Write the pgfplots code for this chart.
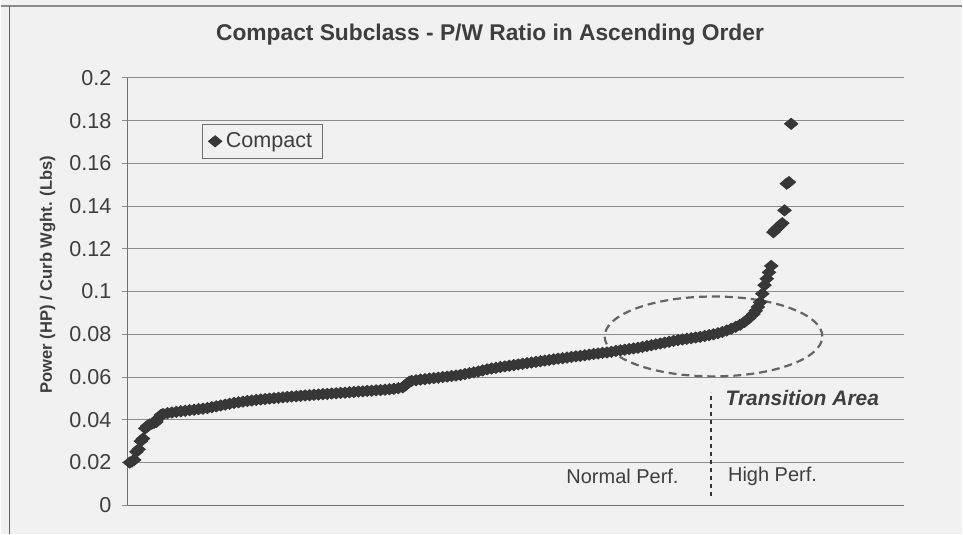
\documentclass[border=0pt]{standalone}
\usepackage{pgfplots}
\pgfplotsset{compat=1.18}
\usepackage{fontspec}
\setmainfont{Liberation Sans}
\definecolor{bg}{RGB}{241,241,241}
\definecolor{txt}{RGB}{62,62,62}
\definecolor{gridc}{RGB}{140,140,140}
\definecolor{mk}{RGB}{55,55,55}
\definecolor{dashc}{RGB}{100,100,100}

\pgfplotstableread{
x y
1 0.0200
2 0.0205
3 0.0212
4 0.0250
5 0.0262
6 0.0300
7 0.0312
8 0.0360
9 0.0372
10 0.0378
11 0.0382
12 0.0386
13 0.0390
14 0.0408
15 0.0422
16 0.0427
18 0.0431
20 0.0434
22 0.0437
24 0.0440
26 0.0442
28 0.0445
30 0.0447
32 0.0450
34 0.0452
36 0.0455
38 0.0459
40 0.0463
42 0.0467
44 0.0471
46 0.0475
48 0.0479
50 0.0482
52 0.0485
54 0.0488
56 0.0490
58 0.0493
60 0.0495
62 0.0497
64 0.0499
66 0.0501
68 0.0503
70 0.0505
72 0.0507
74 0.0509
76 0.0510
78 0.0512
80 0.0514
82 0.0515
84 0.0517
86 0.0518
88 0.0520
90 0.0521
92 0.0523
94 0.0524
96 0.0526
98 0.0527
100 0.0529
102 0.0530
104 0.0532
106 0.0533
108 0.0535
110 0.0536
112 0.0538
114 0.0539
116 0.0541
118 0.0543
120 0.0545
122 0.0548
124 0.0552
125 0.0560
126 0.0570
127 0.0578
128 0.0582
130 0.0585
132 0.0588
134 0.0590
136 0.0593
138 0.0595
140 0.0597
142 0.0600
144 0.0602
146 0.0605
148 0.0607
150 0.0610
152 0.0614
154 0.0618
156 0.0622
158 0.0626
160 0.0631
162 0.0636
164 0.0640
166 0.0643
168 0.0647
170 0.0650
172 0.0653
174 0.0656
176 0.0659
178 0.0662
180 0.0665
182 0.0668
184 0.0671
186 0.0674
188 0.0677
190 0.0680
192 0.0683
194 0.0686
196 0.0688
198 0.0691
200 0.0694
202 0.0697
204 0.0699
206 0.0702
208 0.0705
210 0.0708
212 0.0710
214 0.0713
216 0.0715
218 0.0718
220 0.0722
222 0.0725
224 0.0728
226 0.0731
228 0.0734
230 0.0737
232 0.0741
234 0.0745
236 0.0749
238 0.0753
240 0.0757
242 0.0761
244 0.0765
246 0.0769
248 0.0773
250 0.0776
252 0.0779
254 0.0782
256 0.0785
258 0.0788
260 0.0792
262 0.0796
264 0.0800
266 0.0805
268 0.0811
270 0.0818
272 0.0826
274 0.0835
276 0.0845
278 0.0858
280 0.0875
282 0.0895
283 0.0910
284 0.0928
285 0.0950
286 0.0990
287 0.1030
288 0.1060
289 0.1090
290 0.1120
291 0.1278
292 0.1290
293 0.1300
294 0.1310
295 0.1320
296 0.1380
297 0.1505
298 0.1512
299 0.1785
}\datatable

\begin{document}
\begin{tikzpicture}
\fill[bg] (0,0) rectangle (481.5pt,267.5pt);
\draw[gridc, line width=0.7pt] (0,264.5pt) -- (481.5pt,264.5pt);
\draw[gridc!70!black, line width=0.6pt] (4.5pt,0) -- (4.5pt,264.5pt);
\node[font=\bfseries\fontsize{11.4}{13}\selectfont, text=txt] at (245pt,250pt) {Compact Subclass - P/W Ratio in Ascending Order};
\node[rotate=90, font=\bfseries\fontsize{8.3}{10}\selectfont, text=txt] at (23.5pt,130pt) {Power (HP) / Curb Wght. (Lbs)};
\begin{axis}[
  at={(63.5pt,14.5pt)}, anchor=south west,
  scale only axis, width=389pt, height=214pt,
  xmin=0, xmax=350, ymin=0, ymax=0.2,
  axis x line*=bottom, axis y line*=left,
  xtick=\empty,
  ytick={0,0.02,0.04,0.06,0.08,0.1,0.12,0.14,0.16,0.18,0.2},
  yticklabels={0,0.02,0.04,0.06,0.08,0.1,0.12,0.14,0.16,0.18,0.2},
  ymajorgrids,
  grid style={gridc, line width=0.5pt},
  tick align=outside, major tick length=3pt,
  tick style={gridc, line width=0.5pt},
  axis line style={gridc!80!black, line width=0.6pt},
  yticklabel style={font=\fontsize{10.8}{12}\selectfont, text=txt, xshift=-1.5pt},
  legend style={at={(0.1735,0.8516)}, anchor=center, draw=gridc!80!black, fill=bg,
    font=\fontsize{10.8}{12}\selectfont, text=txt, inner xsep=3pt, inner ysep=2pt},
  legend cell align=left,
  clip=false,
]
\addplot[only marks, mark=diamond*, mark size=2.8pt, color=mk,
  mark options={xscale=1.6, fill=mk, draw=mk}] table[x=x, y=y] {\datatable};
\addlegendentry{Compact}
\draw[dashc, line width=1.1pt, dash pattern=on 4pt off 2.5pt] (axis cs:264,0.079) ellipse [x radius=54.5pt, y radius=20pt];
\draw[mk, line width=0.9pt, dash pattern=on 2pt off 2pt] (axis cs:262.7,0.0042) -- (axis cs:262.7,0.0528);
\node[font=\bfseries\itshape\fontsize{10.5}{12}\selectfont, text=txt] at (axis cs:304,0.050) {Transition Area};
\node[font=\fontsize{10}{12}\selectfont, text=txt] at (axis cs:223,0.0136) {Normal Perf.};
\node[font=\fontsize{10}{12}\selectfont, text=txt] at (axis cs:290.6,0.0136) {High Perf.};
\end{axis}
\end{tikzpicture}
\end{document}
